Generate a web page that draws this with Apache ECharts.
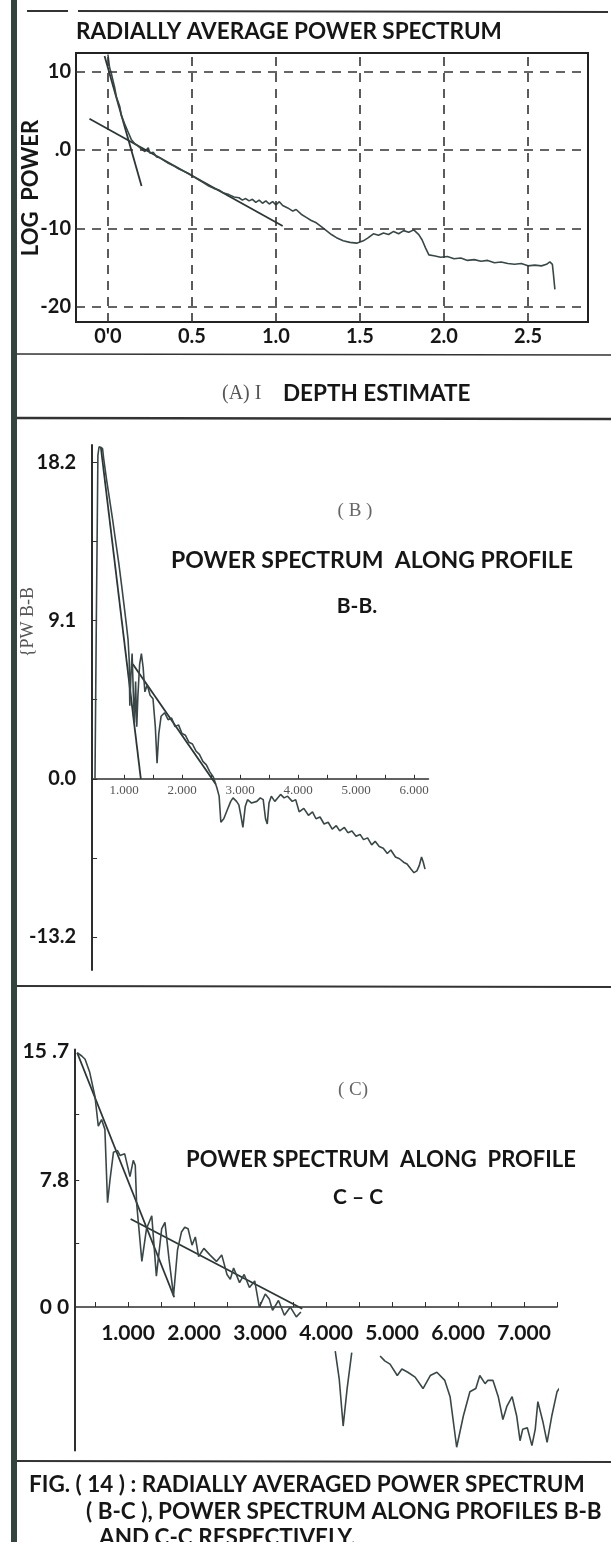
<!DOCTYPE html>
<html><head><meta charset="utf-8">
<script src="https://cdn.jsdelivr.net/npm/echarts@6/dist/echarts.min.js"></script>
<style>html,body{margin:0;padding:0;background:#fff}#c{width:611px;height:1542px}</style>
</head><body><div id="c"></div>
<script>
// ---------- Panel A : radially averaged power spectrum ----------
const aTicksX = [0, 0.5, 1.0, 1.5, 2.0, 2.5];
const aTickLabelsX = ["0'0", "0.5", "1.0", "1.5", "2.0", "2.5"];
const aTicksY = [10, 0, -10, -20];
const aTickLabelsY = ["10", ".0", "-10", "-20"];
const aCurve = [[0.00,12.2],[0.01,10.5],[0.02,9.8],[0.03,8.9],[0.04,8.0],[0.05,6.8],[0.07,5.6],[0.08,4.4],[0.10,3.3],[0.12,2.3],[0.14,1.3],[0.16,0.8],[0.18,0.5],[0.20,0.1],[0.22,-0.2],[0.24,0.3],[0.25,-0.4],[0.27,-0.3],[0.29,-0.9],[0.31,-1.0],[0.33,-1.3],[0.36,-1.7],[0.39,-2.0],[0.42,-2.4],[0.45,-2.7],[0.48,-3.0],[0.51,-3.4],[0.54,-3.8],[0.57,-4.2],[0.60,-4.6],[0.63,-4.9],[0.66,-5.1],[0.69,-5.5],[0.72,-5.7],[0.75,-6.0],[0.78,-6.1],[0.80,-6.4],[0.82,-6.2],[0.84,-6.5],[0.86,-6.3],[0.88,-6.7],[0.90,-6.4],[0.92,-6.8],[0.94,-6.5],[0.96,-6.9],[0.98,-6.6],[1.00,-7.0],[1.02,-6.6],[1.04,-7.1],[1.07,-7.4],[1.10,-7.8],[1.12,-7.6],[1.15,-8.2],[1.18,-8.6],[1.21,-9.0],[1.24,-9.3],[1.27,-9.8],[1.30,-10.3],[1.33,-10.8],[1.36,-11.2],[1.40,-11.6],[1.44,-11.8],[1.48,-11.9],[1.52,-11.6],[1.55,-11.2],[1.58,-10.7],[1.61,-10.9],[1.64,-10.6],[1.67,-10.8],[1.70,-10.4],[1.73,-10.7],[1.76,-10.3],[1.79,-10.5],[1.82,-10.2],[1.85,-10.8],[1.87,-11.5],[1.89,-12.5],[1.91,-13.4],[1.94,-13.5],[1.98,-13.7],[2.02,-13.6],[2.06,-13.9],[2.10,-13.8],[2.14,-14.1],[2.18,-14.0],[2.22,-14.2],[2.26,-14.1],[2.30,-14.4],[2.34,-14.3],[2.38,-14.5],[2.42,-14.6],[2.46,-14.5],[2.50,-14.8],[2.54,-14.7],[2.58,-14.8],[2.61,-14.6],[2.63,-14.3],[2.645,-14.6],[2.65,-15.6],[2.66,-17.8]];
const aFitSteep = [[-0.02,12.0],[0.20,-4.6]];
const aFitShallow = [[-0.11,4.0],[1.04,-9.7]];

// ---------- Panel B : power spectrum along profile B-B ----------
const bTicksX = [1, 2, 3, 4, 5, 6];
const bTickLabelsX = ["1.000", "2.000", "3.000", "4.000", "5.000", "6.000"];
const bTickMarksX = [1, 1.5, 2, 2.5, 3, 3.5, 4, 4.5, 5, 5.5, 6];
const bTicksY = [18.2, 9.1, 0.0, -9.1];
const bTickLabelsY = ["18.2", "9.1", "0.0", "-13.2"];
const bTickMarksY = [18.2, 13.65, 9.1, 4.55, 0, -4.55, -9.1];
const bCurve = [[0.50,0.0],[0.52,8.0],[0.54,15.0],[0.55,18.6],[0.57,19.1],[0.60,19.1],[0.63,19.0],[0.65,18.4],[0.70,17.2],[0.75,16.1],[0.80,15.0],[0.85,13.8],[0.91,12.4],[0.96,11.1],[1.00,10.0],[1.04,8.9],[1.07,8.0],[1.09,6.8],[1.10,4.2],[1.12,6.0],[1.14,7.2],[1.16,5.0],[1.18,3.2],[1.20,5.6],[1.22,3.0],[1.24,4.8],[1.27,6.6],[1.30,7.2],[1.33,6.4],[1.36,5.0],[1.40,5.4],[1.45,4.8],[1.50,4.6],[1.54,3.0],[1.57,0.9],[1.60,2.6],[1.64,3.6],[1.70,3.8],[1.76,3.4],[1.82,3.5],[1.88,3.0],[1.94,3.1],[2.00,2.6],[2.06,2.5],[2.12,2.1],[2.18,2.0],[2.24,1.6],[2.30,1.4],[2.36,1.0],[2.42,0.8],[2.48,0.4],[2.54,0.1],[2.60,-0.5],[2.64,-1.0],[2.67,-2.5],[2.72,-2.3],[2.78,-1.8],[2.84,-1.3],[2.88,-1.1],[2.94,-1.3],[2.98,-1.5],[3.02,-2.2],[3.05,-2.8],[3.09,-1.6],[3.13,-1.2],[3.20,-1.4],[3.29,-1.3],[3.35,-1.1],[3.40,-1.2],[3.44,-2.3],[3.47,-2.6],[3.50,-1.4],[3.54,-1.0],[3.60,-1.3],[3.65,-1.1],[3.70,-0.9],[3.76,-1.1],[3.82,-1.0],[3.90,-1.3],[3.96,-1.2],[4.02,-1.9],[4.10,-1.7],[4.18,-2.1],[4.25,-1.9],[4.31,-2.3],[4.38,-2.2],[4.45,-2.6],[4.52,-2.5],[4.59,-2.9],[4.66,-2.7],[4.72,-3.0],[4.80,-2.8],[4.86,-3.1],[4.93,-3.0],[5.00,-3.3],[5.07,-3.2],[5.13,-3.5],[5.20,-3.4],[5.27,-3.8],[5.33,-3.6],[5.40,-3.9],[5.47,-4.0],[5.54,-4.3],[5.60,-4.1],[5.68,-4.5],[5.75,-4.6],[5.82,-4.8],[5.88,-4.9],[5.95,-5.2],[6.00,-5.4],[6.05,-5.3],[6.09,-5.0],[6.13,-4.5],[6.16,-4.8],[6.19,-5.2]];
const bFitSteep = [[0.60,19.1],[1.29,0.0]];
const bFitShallow = [[1.15,6.6],[2.58,-0.3]];

// ---------- Panel C : power spectrum along profile C-C ----------
const cTicksX = [1, 2, 3, 4, 5, 6, 7];
const cTickLabelsX = ["1.000", "2.000", "3.000", "4.000", "5.000", "6.000", "7.000"];
const cTickMarksX = [0.5, 1, 1.5, 2, 2.5, 3, 3.5, 4, 4.5, 5, 5.5, 6, 6.5, 7, 7.5];
const cTicksY = [15.7, 7.8, 0.0];
const cTickLabelsY = ["15 .7", "7.8", "0 0"];
const cTickMarksY = [11.8, 7.8, 3.9];
const cSeg1 = [[0.23,15.6],[0.30,15.4],[0.35,15.2],[0.42,14.4],[0.50,12.9],[0.55,11.1],[0.60,11.5],[0.65,10.9],[0.69,6.4],[0.73,7.9],[0.78,9.5],[0.84,9.6],[0.88,9.3],[0.95,9.4],[1.03,8.0],[1.08,9.0],[1.11,8.7],[1.13,6.4],[1.21,2.8],[1.28,4.8],[1.36,5.6],[1.43,1.9],[1.51,4.8],[1.56,5.2],[1.62,3.0],[1.69,0.7],[1.75,3.5],[1.81,4.6],[1.86,4.9],[1.91,4.8],[1.97,3.8],[2.02,4.3],[2.07,3.1],[2.15,3.6],[2.24,3.2],[2.34,2.8],[2.42,3.2],[2.50,2.0],[2.55,1.7],[2.60,2.4],[2.69,1.5],[2.76,2.0],[2.84,1.2],[2.92,1.6],[2.99,0.0],[3.08,0.8],[3.14,0.5],[3.19,-0.2],[3.28,0.4],[3.37,-0.5],[3.46,0.0],[3.55,-0.6],[3.62,-0.3]];
const cSegV = [[4.14,-2.7],[4.20,-4.4],[4.26,-7.3],[4.32,-5.0],[4.39,-2.8]];
const cSeg3 = [[4.82,-3.0],[4.89,-3.3],[4.97,-3.5],[5.08,-4.2],[5.15,-3.8],[5.24,-4.0],[5.35,-4.3],[5.47,-5.0],[5.58,-4.2],[5.68,-4.0],[5.80,-4.5],[5.88,-5.5],[5.98,-8.6],[6.08,-6.7],[6.18,-5.2],[6.27,-5.0],[6.33,-4.2],[6.41,-4.7],[6.45,-4.5],[6.53,-4.5],[6.61,-5.5],[6.68,-6.9],[6.74,-6.1],[6.82,-5.5],[6.89,-6.7],[6.94,-8.2],[6.98,-7.5],[7.05,-7.4],[7.12,-8.5],[7.17,-7.5],[7.21,-5.8],[7.29,-7.1],[7.35,-8.3],[7.42,-6.7],[7.50,-5.2],[7.55,-4.9],[7.59,-5.2]];
const cFitSteep = [[0.23,15.6],[1.70,0.6]];
const cFitShallow = [[1.04,5.4],[3.64,-0.1]];

// ---------- drawing ----------
const SANS = 'Lato, "Open Sans", sans-serif';
const SERIF = '"Liberation Serif", "DejaVu Serif", serif';
const INK = '#161616';
const CURVE = '#3a4747';
const AXIS = '#2e2e2e';

// grid geometry (pixels)
const GA = { left: 76, top: 53, width: 512, height: 269 };
const GB = { left: 92.1, top: 445, width: 336.4, height: 525 };
const GC = { left: 75.2, top: 1049.5, width: 481.8, height: 401 };
const B_Y = [-11.0, 19.2], C_Y = [-8.8, 15.8];
// distance from grid bottom up to the value-0 line, used to lift the x axis onto y = 0
const bLift = GB.height * (0 - B_Y[0]) / (B_Y[1] - B_Y[0]);
const cLift = GC.height * (0 - C_Y[0]) / (C_Y[1] - C_Y[0]);

function labelFor(ticks, labels) {
  return function (v) {
    const i = ticks.findIndex(function (t) { return Math.abs(t - v) < 1e-6; });
    return i >= 0 ? labels[i] : '';
  };
}
function lineSeries(data, xi, extra) {
  return Object.assign({
    type: 'line', xAxisIndex: xi, yAxisIndex: xi, data: data, symbol: 'none',
    lineStyle: { color: CURVE, width: 1.6 }, silent: true, z: 3
  }, extra || {});
}
const fitStyle = { lineStyle: { color: '#2c3636', width: 1.8 } };

const chart = echarts.init(document.getElementById('c'), null, { width: 611, height: 1542 });
const boldLbl = { color: INK, fontFamily: SANS, fontWeight: 'bold' };

const option = {
  animation: false,
  backgroundColor: '#ffffff',
  grid: [
    Object.assign({ show: true, borderColor: '#222', borderWidth: 2, backgroundColor: 'rgba(0,0,0,0)' }, GA),
    GB,
    GC
  ],
  xAxis: [
    { gridIndex: 0, type: 'value', min: -0.19, max: 2.857,
      axisLine: { show: false, onZero: false }, axisTick: { show: false }, splitLine: { show: false },
      axisLabel: Object.assign({ customValues: aTicksX, formatter: labelFor(aTicksX, aTickLabelsX), margin: 5, fontSize: 20 }, boldLbl) },
    { gridIndex: 1, type: 'value', min: 0.45, max: 6.25, position: 'bottom', offset: -bLift,
      axisLine: { onZero: false, lineStyle: { color: AXIS, width: 1.5 } },
      axisTick: { customValues: bTickMarksX, inside: true, length: 4, lineStyle: { color: AXIS } },
      splitLine: { show: false },
      axisLabel: { customValues: bTicksX, formatter: labelFor(bTicksX, bTickLabelsX), margin: 5, fontSize: 13, color: '#555', fontFamily: SERIF } },
    { gridIndex: 2, type: 'value', min: 0.2, max: 7.5, position: 'bottom', offset: -cLift,
      axisLine: { onZero: false, lineStyle: { color: AXIS, width: 1.5 } },
      axisTick: { customValues: cTickMarksX, inside: true, length: 5, lineStyle: { color: AXIS } },
      splitLine: { show: false },
      axisLabel: Object.assign({ customValues: cTicksX, formatter: labelFor(cTicksX, cTickLabelsX), margin: 16, fontSize: 21 }, boldLbl) }
  ],
  yAxis: [
    { gridIndex: 0, type: 'value', min: -21.97, max: 12.39,
      axisLine: { show: false, onZero: false }, axisTick: { show: false }, splitLine: { show: false },
      axisLabel: Object.assign({ customValues: aTicksY, formatter: labelFor(aTicksY, aTickLabelsY), margin: 5, fontSize: 20 }, boldLbl) },
    { gridIndex: 1, type: 'value', min: B_Y[0], max: B_Y[1],
      axisLine: { onZero: false, lineStyle: { color: AXIS, width: 2 } },
      axisTick: { customValues: bTickMarksY, inside: true, length: 5, lineStyle: { color: AXIS } },
      splitLine: { show: false },
      axisLabel: Object.assign({ customValues: bTicksY, formatter: labelFor(bTicksY, bTickLabelsY), margin: 16, fontSize: 20 }, boldLbl) },
    { gridIndex: 2, type: 'value', min: C_Y[0], max: C_Y[1],
      axisLine: { onZero: false, lineStyle: { color: AXIS, width: 2 } },
      axisTick: { customValues: cTickMarksY, inside: true, length: 4, lineStyle: { color: AXIS } },
      splitLine: { show: false },
      axisLabel: Object.assign({ customValues: cTicksY, formatter: labelFor(cTicksY, cTickLabelsY), margin: 6, fontSize: 21 }, boldLbl) }
  ],
  series: [
    lineSeries(aFitShallow, 0, Object.assign({
      markLine: {
        silent: true, symbol: 'none', label: { show: false },
        lineStyle: { color: '#333', width: 1.6, type: [9, 7] },
        data: aTicksX.map(function (v) { return { xAxis: v }; }).concat(aTicksY.map(function (v) { return { yAxis: v }; }))
      }
    }, fitStyle)),
    lineSeries(aFitSteep, 0, fitStyle),
    lineSeries(aCurve, 0),
    lineSeries(bFitSteep, 1, fitStyle),
    lineSeries(bFitShallow, 1, fitStyle),
    lineSeries(bCurve, 1),
    lineSeries(cFitSteep, 2, fitStyle),
    lineSeries(cFitShallow, 2, fitStyle),
    lineSeries(cSeg1, 2),
    lineSeries(cSegV, 2, { clip: false }),
    lineSeries(cSeg3, 2, { clip: false })
  ],
  graphic: [
    { type: 'rect', shape: { x: 11, y: 0, width: 6, height: 1542 }, style: { fill: '#34443f' }, z: 10 },
    { type: 'line', shape: { x1: 27, y1: 11, x2: 68, y2: 11 }, style: { stroke: '#333', lineWidth: 2 } },
    { type: 'line', shape: { x1: 78, y1: 11, x2: 608, y2: 12 }, style: { stroke: '#333', lineWidth: 2 } },
    { type: 'text', x: 76, y: 32, style: { text: 'RADIALLY AVERAGE POWER SPECTRUM', font: 'bold 22.5px ' + SANS, fill: INK, textVerticalAlign: 'middle' } },
    { type: 'text', x: 31, y: 188, rotation: Math.PI / 2, style: { text: 'LOG  POWER', font: 'bold 22px ' + SANS, fill: INK, textAlign: 'center', textVerticalAlign: 'middle' } },
    { type: 'line', shape: { x1: 17, y1: 354, x2: 611, y2: 355 }, style: { stroke: '#333', lineWidth: 1.5 } },
    { type: 'text', x: 222, y: 394, style: { text: '(A) I', font: '20px ' + SERIF, fill: '#555', textVerticalAlign: 'middle' } },
    { type: 'text', x: 283, y: 394, style: { text: 'DEPTH ESTIMATE', font: 'bold 22.5px ' + SANS, fill: INK, textVerticalAlign: 'middle' } },
    { type: 'line', shape: { x1: 17, y1: 418, x2: 611, y2: 419 }, style: { stroke: '#333', lineWidth: 2.5 } },
    { type: 'text', x: 355, y: 511, style: { text: '( B )', font: '19px ' + SERIF, fill: '#666', textAlign: 'center', textVerticalAlign: 'middle' } },
    { type: 'text', x: 372, y: 561, style: { text: 'POWER SPECTRUM  ALONG PROFILE', font: 'bold 23px ' + SANS, fill: INK, textAlign: 'center', textVerticalAlign: 'middle' } },
    { type: 'text', x: 357, y: 606, style: { text: 'B-B.', font: 'bold 21px ' + SANS, fill: INK, textAlign: 'center', textVerticalAlign: 'middle' } },
    { type: 'text', x: 28, y: 622, rotation: Math.PI / 2, style: { text: '{PW B-B', font: '18px ' + SERIF, fill: '#555', textAlign: 'center', textVerticalAlign: 'middle' } },
    { type: 'line', shape: { x1: 17, y1: 986, x2: 611, y2: 987 }, style: { stroke: '#333', lineWidth: 2 } },
    { type: 'text', x: 353, y: 1090, style: { text: '( C)', font: '19px ' + SERIF, fill: '#666', textAlign: 'center', textVerticalAlign: 'middle' } },
    { type: 'text', x: 381, y: 1160, style: { text: 'POWER SPECTRUM  ALONG  PROFILE', font: 'bold 22px ' + SANS, fill: INK, textAlign: 'center', textVerticalAlign: 'middle' } },
    { type: 'text', x: 358, y: 1197, style: { text: 'C \u2013 C', font: 'bold 21px ' + SANS, fill: INK, textAlign: 'center', textVerticalAlign: 'middle' } },
    { type: 'line', shape: { x1: 17, y1: 1461, x2: 611, y2: 1462 }, style: { stroke: '#333', lineWidth: 2 } },
    { type: 'text', x: 29, y: 1485, style: { text: 'FIG. ( 14 ) : RADIALLY AVERAGED POWER SPECTRUM', font: 'bold 22.5px ' + SANS, fill: INK, textVerticalAlign: 'middle' } },
    { type: 'text', x: 86, y: 1512, style: { text: '( B-C ), POWER SPECTRUM ALONG PROFILES B-B', font: 'bold 22.5px ' + SANS, fill: INK, textVerticalAlign: 'middle' } },
    { type: 'text', x: 99, y: 1538, style: { text: 'AND C-C RESPECTIVELY.', font: 'bold 22.5px ' + SANS, fill: INK, textVerticalAlign: 'middle' } }
  ]
};
chart.setOption(option);
</script>
</body></html>
